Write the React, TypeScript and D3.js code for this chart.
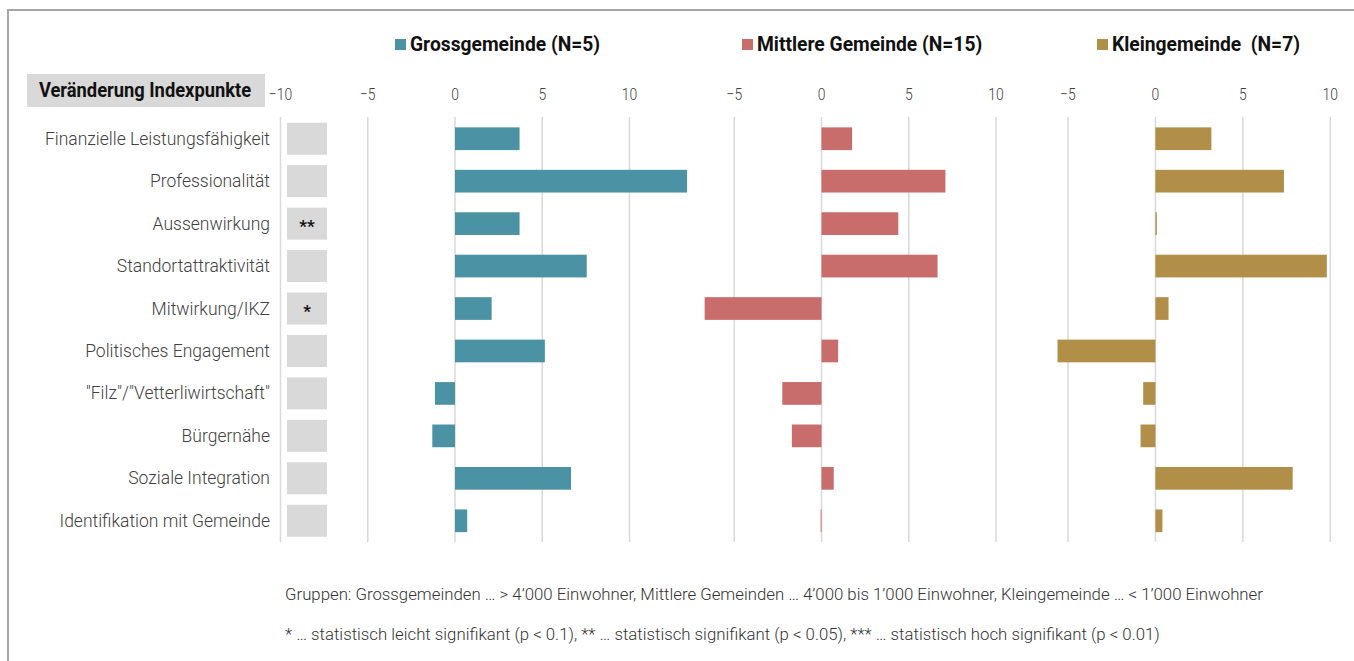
import * as d3 from "d3";
import { useEffect, useRef } from "react";

const categories = [
  "Finanzielle Leistungsfähigkeit",
  "Professionalität",
  "Aussenwirkung",
  "Standortattraktivität",
  "Mitwirkung/IKZ",
  "Politisches Engagement",
  "\"Filz\"/\"Vetterliwirtschaft\"",
  "Bürgernähe",
  "Soziale Integration",
  "Identifikation mit Gemeinde",
];

const grossValues = [3.7, 13.3, 3.7, 7.55, 2.1, 5.15, -1.15, -1.3, 6.65, 0.7];
const mittlereValues = [1.75, 7.1, 4.4, 6.65, -6.7, 0.95, -2.25, -1.7, 0.7, -0.05];
const kleinValues = [3.2, 7.35, 0.08, 9.8, 0.75, -5.6, -0.7, -0.85, 7.85, 0.4];

const significance = ["", "", "**", "", "*", "", "", "", "", ""];

const seriesNames = ["Grossgemeinde (N=5)", "Mittlere Gemeinde (N=15)", "Kleingemeinde  (N=7)"];
const seriesColors = ["#4b92a4", "#c86d6c", "#b28f49"];

const panelTicks = [
  [-10, -5, 0, 5, 10],
  [-5, 0, 5, 10],
  [-5, 0, 5, 10],
];

const footnotes = [
  "Gruppen: Grossgemeinden … > 4’000 Einwohner, Mittlere Gemeinden … 4’000 bis 1’000 Einwohner, Kleingemeinde … < 1’000 Einwohner",
  "* … statistisch leicht signifikant (p < 0.1), ** … statistisch signifikant (p < 0.05), *** … statistisch hoch signifikant (p < 0.01)",
];

function App() {
  const ref = useRef<SVGSVGElement>(null);

  useEffect(() => {
    const svg = d3.select(ref.current);
    svg.selectAll("*").remove();

    const width = 1354;
    const height = 661;
    const font = "Roboto, 'Noto Sans', sans-serif";
    const textColor = "#404040";

    svg.attr("width", width).attr("height", height);

    // outer frame
    svg.append("rect")
      .attr("x", 8)
      .attr("y", 10)
      .attr("width", width + 20)
      .attr("height", height + 20)
      .attr("fill", "white")
      .attr("stroke", "#a6a6a6")
      .attr("stroke-width", 2);

    const y = d3.scaleBand<string>()
      .domain(categories)
      .range([117.5, 542])
      .paddingInner(0.465)
      .paddingOuter(0.2325);

    const rowY = d3.scaleBand<string>()
      .domain(categories)
      .range([117.5, 542]);

    // panels: each one its own x scale
    const panels = [
      { domain: [-10, 10], range: [280.5, 629.5], values: grossValues },
      { domain: [-5, 10], range: [734.3, 996], values: mittlereValues },
      { domain: [-5, 10], range: [1068, 1330.3], values: kleinValues },
    ];

    panels.forEach((p, i) => {
      const x = d3.scaleLinear().domain(p.domain).range(p.range);
      const g = svg.append("g");

      // gridlines
      g.selectAll(".grid")
        .data(panelTicks[i])
        .enter()
        .append("line")
        .attr("x1", d => x(d))
        .attr("x2", d => x(d))
        .attr("y1", 117)
        .attr("y2", 542)
        .attr("stroke", "#d9d9d9")
        .attr("stroke-width", 1.5);

      // tick labels (condensed look)
      g.selectAll(".tick-label")
        .data(panelTicks[i])
        .enter()
        .append("text")
        .attr("transform", d => `translate(${x(d)},100) scale(0.82,1)`)
        .attr("text-anchor", "middle")
        .style("font-family", font)
        .style("font-size", "17px")
        .style("font-weight", 300)
        .attr("fill", textColor)
        .text(d => d3.format("d")(d));

      // bars
      g.selectAll(".bar")
        .data(p.values)
        .enter()
        .append("rect")
        .attr("x", d => x(Math.min(0, d)))
        .attr("y", (d, j) => y(categories[j]) as number)
        .attr("width", d => Math.max(0.8, Math.abs(x(d) - x(0))))
        .attr("height", y.bandwidth())
        .attr("fill", seriesColors[i]);
    });

    // significance column
    const sig = svg.append("g");
    sig.selectAll("rect")
      .data(categories)
      .enter()
      .append("rect")
      .attr("x", 287)
      .attr("y", d => (rowY(d) as number) + rowY.bandwidth() / 2 - 16)
      .attr("width", 40)
      .attr("height", 32)
      .attr("fill", "#d9d9d9");

    sig.selectAll("text")
      .data(significance)
      .enter()
      .append("text")
      .attr("x", 307)
      .attr("y", (d, j) => (rowY(categories[j]) as number) + rowY.bandwidth() / 2 + 8)
      .attr("text-anchor", "middle")
      .style("font-family", font)
      .style("font-size", "17px")
      .style("font-weight", 700)
      .attr("fill", "#111")
      .text(d => d);

    // category labels
    svg.append("g")
      .selectAll("text")
      .data(categories)
      .enter()
      .append("text")
      .attr("x", 270)
      .attr("y", d => (rowY(d) as number) + rowY.bandwidth() / 2 + 6)
      .attr("text-anchor", "end")
      .style("font-family", font)
      .style("font-size", "17.5px")
      .style("font-weight", 300)
      .attr("fill", textColor)
      .text(d => d);

    // header box
    svg.append("rect")
      .attr("x", 27)
      .attr("y", 74)
      .attr("width", 238)
      .attr("height", 33)
      .attr("fill", "#d9d9d9");
    svg.append("text")
      .attr("transform", "translate(145,97) scale(0.94,1)")
      .attr("text-anchor", "middle")
      .style("font-family", font)
      .style("font-size", "19.5px")
      .style("font-weight", 700)
      .attr("fill", "#111")
      .text("Veränderung Indexpunkte");

    // legend
    const legendX = [395, 742, 1097];
    const legend = svg.append("g");
    seriesNames.forEach((name, i) => {
      legend.append("rect")
        .attr("x", legendX[i])
        .attr("y", 39)
        .attr("width", 11)
        .attr("height", 11)
        .attr("fill", seriesColors[i]);
      legend.append("text")
        .attr("transform", `translate(${legendX[i] + 15},51) scale(0.94,1)`)
        .style("font-family", font)
        .style("font-size", "20.5px")
        .style("font-weight", 700)
        .style("white-space", "pre")
        .attr("fill", "#111")
        .text(name);
    });

    // footnotes
    svg.append("g")
      .selectAll("text")
      .data(footnotes)
      .enter()
      .append("text")
      .attr("x", 285)
      .attr("y", (d, j) => 600 + j * 40)
      .style("font-family", font)
      .style("font-size", "16.8px")
      .style("font-weight", 300)
      .attr("fill", "#333")
      .text(d => d);
  }, []);

  return (
    <div style={{ position: "absolute", left: 0, top: 0 }}>
      <svg ref={ref} style={{ display: "block" }} />
    </div>
  );
}

export default App;
